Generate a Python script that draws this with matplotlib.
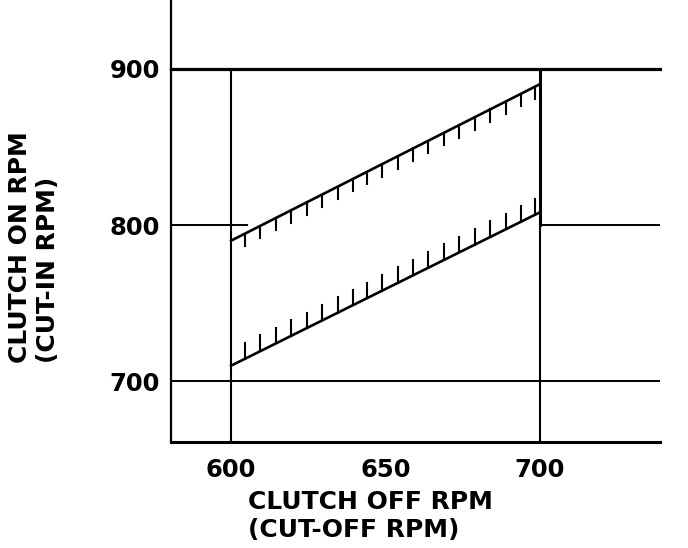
import matplotlib
matplotlib.use("Agg")
import matplotlib.pyplot as plt

# clutch off rpm (x) vs clutch on rpm (y) band limits
off_rpm = [600, 700]
upper_on = [790, 890]
lower_on = [710, 808]

# hatch positions along the band edges
hatch_x = [604.5, 609.5, 614.5, 619.5, 624.5, 629.5, 634.5, 639.5, 644, 649,
           654, 659, 664, 669, 674, 679, 684, 689, 694, 698.5]
upper_len = 8
lower_len = 10

x_ticks = [600, 650, 700]
y_ticks = [700, 800, 900]

plt.rcParams['font.family'] = ['DejaVu Sans']

fig = plt.figure(figsize=(6.88, 5.48), dpi=100)
ax = fig.add_axes([0.2485, 0.193, 0.7105, 0.807])
ax.set_xlim(580.5, 739)
ax.set_ylim(661, 944)

# reference lines
ax.axhline(900, color='black', lw=2.3, clip_on=False)
ax.axhline(700, color='black', lw=1.4)
ax.plot([580.5, 605], [800, 800], color='black', lw=1.4)
ax.plot([700, 739], [800, 800], color='black', lw=1.4)
ax.plot([600, 600], [661, 900], color='black', lw=1.5)
ax.plot([700, 700], [661, 800], color='black', lw=1.5)
ax.plot([700, 700], [800, 900], color='black', lw=2.2)

# band edges
ax.plot(off_rpm, upper_on, color='black', lw=1.9)
ax.plot(off_rpm, lower_on, color='black', lw=1.9)

# hatching: hangs down from upper edge, rises from lower edge
for hx in hatch_x:
    yu = upper_on[0] + (hx - off_rpm[0]) * (upper_on[1] - upper_on[0]) / (off_rpm[1] - off_rpm[0])
    yl = lower_on[0] + (hx - off_rpm[0]) * (lower_on[1] - lower_on[0]) / (off_rpm[1] - off_rpm[0])
    ax.plot([hx, hx], [yu, yu - upper_len], color='black', lw=1.5)
    ax.plot([hx, hx], [yl, yl + lower_len], color='black', lw=1.5)

for side in ['top', 'right']:
    ax.spines[side].set_visible(False)
ax.spines['left'].set_linewidth(1.6)
ax.spines['bottom'].set_linewidth(2.2)

ax.set_xticks(x_ticks)
ax.set_yticks(y_ticks)
ax.tick_params(axis='y', length=0, pad=8, labelsize=17.5)
ax.tick_params(axis='x', length=0, pad=11, labelsize=17.5)
for lab in ax.get_xticklabels() + ax.get_yticklabels():
    lab.set_fontweight('bold')

fig.text(248 / 688, 1 - 490 / 548, 'CLUTCH OFF RPM\n(CUT-OFF RPM)',
         fontsize=18, fontweight='bold', ha='left', va='top',
         multialignment='left', linespacing=1.2)
fig.text(8 / 688, 1 - 363 / 548, 'CLUTCH ON RPM\n(CUT-IN RPM)',
         fontsize=18, fontweight='bold', ha='left', va='bottom',
         rotation=90, multialignment='left', linespacing=1.2)

fig.savefig('out.png', dpi=100)
